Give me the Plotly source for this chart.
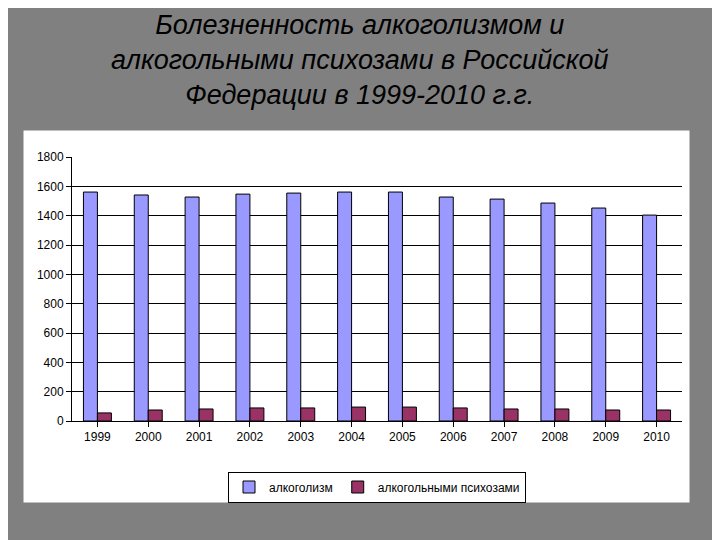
import plotly.graph_objects as go

years = ["1999","2000","2001","2002","2003","2004","2005","2006","2007","2008","2009","2010"]
alcoholism = [1561,1541,1527,1547,1554,1561,1561,1527,1513,1486,1452,1404]
psychoses = [55,75,82,89,89,95,95,89,82,82,75,75]

fig = go.Figure()
fig.add_bar(x=years, y=alcoholism, name="алкоголизм", marker=dict(color="#9999FF", line=dict(color="black", width=1)))
fig.add_bar(x=years, y=psychoses, name="алкогольными психозами", marker=dict(color="#993366", line=dict(color="black", width=1)))

W, H = 610, 264
def px(x): return (x-72)/W
def py(y): return (421-y)/H

fig.add_shape(type="rect", xref="paper", yref="paper", x0=px(23), x1=px(690), y0=py(503), y1=py(130),
              fillcolor="white", line=dict(color="#808080", width=1), layer="below")
fig.add_annotation(xref="paper", yref="paper", x=px(360), y=py(8), xanchor="center", yanchor="top",
                   showarrow=False, align="center",
                   text="<i>Болезненность алкоголизмом и<br>алкогольными психозами в Российской<br>Федерации в 1999-2010 г.г.</i>",
                   font=dict(size=27, color="black"))

fig.update_layout(
    width=720, height=540, paper_bgcolor="#808080", plot_bgcolor="#C0C0C0",
    margin=dict(l=64, r=46, t=149, b=127),
    barmode="group", bargap=0.45, bargroupgap=0.0,
    font=dict(family="Liberation Sans, Arial", color="black", size=12),
    legend=dict(orientation="h", x=0.5, xanchor="center", y=py(487), yanchor="middle",
                bordercolor="black", borderwidth=1, bgcolor="white", font=dict(size=12)),
    xaxis=dict(showline=True, linecolor="black", ticks="outside", tickcolor="black", tickfont=dict(size=12)),
    yaxis=dict(range=[0,1800], dtick=200, gridcolor="black", gridwidth=1, showline=True, linecolor="black",
               ticks="outside", tickcolor="black", zeroline=False, tickfont=dict(size=12)),
)
fig.write_html("out.html")
